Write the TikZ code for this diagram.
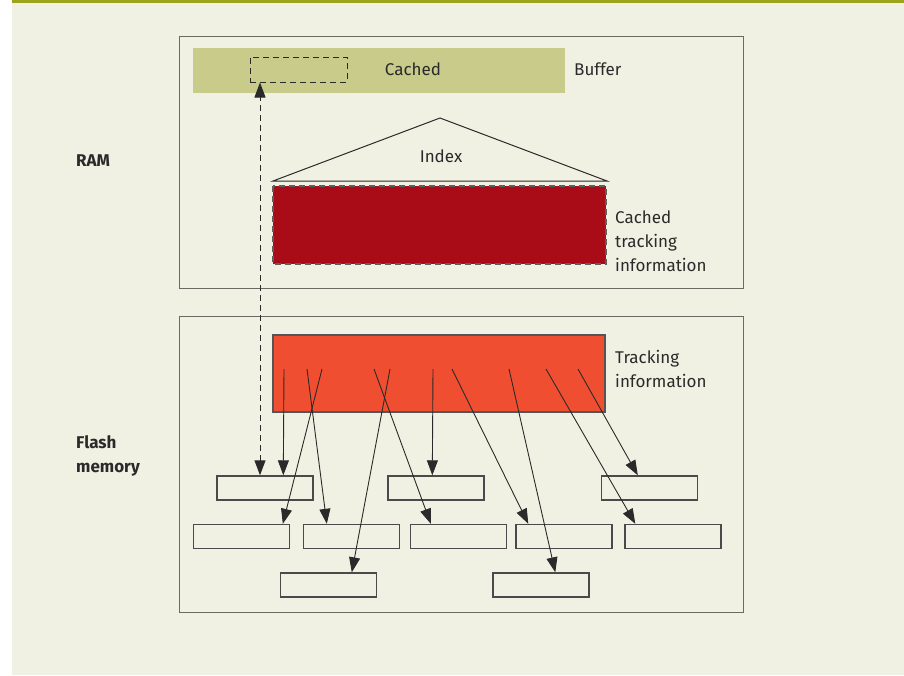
\documentclass[tikz,border=0pt]{standalone}
\usepackage{fontspec}
\setmainfont{Fira Sans}
\usetikzlibrary{arrows.meta}
\definecolor{paper}{HTML}{F1F1E3}
\definecolor{topbar}{HTML}{9CA41C}
\definecolor{buffer}{HTML}{C9CB8A}
\definecolor{cachered}{HTML}{A90C17}
\definecolor{trackred}{HTML}{EF4F30}
\definecolor{ink}{HTML}{2A2A2A}
\definecolor{frame}{HTML}{6A6A62}
\begin{document}
\begin{tikzpicture}[x=1pt,y=-1pt,
    lbl/.style={text=ink,font=\fontsize{17}{24}\selectfont,inner sep=0pt},
    memlbl/.style={text=ink,font=\fontsize{17}{24}\selectfont\bfseries,align=left,anchor=west,inner sep=0pt},
    page/.style={draw=frame,line width=1pt},
    flashblk/.style={draw=ink!85,line width=1.4pt,minimum width=96pt,minimum height=24pt,inner sep=0pt},
    arr/.style={-{Triangle[length=15pt,width=11pt]},line width=0.9pt,draw=ink},
    dasharr/.style={{Triangle[length=15pt,width=11pt]}-{Triangle[length=15pt,width=11pt]},line width=1pt,draw=ink,dash pattern=on 6pt off 4pt},
  ]
  \useasboundingbox (0,0) rectangle (904,675);
  \fill[white] (0,0) rectangle (904,675);
  \fill[paper] (12,0) rectangle (904,675);
  \fill[topbar] (12,0) rectangle (904,3);

  % RAM
  \draw[page] (179,36) rectangle (743,288);
  \node[memlbl] (ram) at (76,161) {RAM};
  \fill[buffer] (193,48) rectangle (565,93);
  \node[draw=ink,line width=1pt,dash pattern=on 6pt off 4pt,minimum width=97pt,minimum height=25pt,inner sep=0pt] (cbox) at (298.5,69.5) {};
  \node[lbl] (cached) at (413,69) {Cached};
  \node[lbl,anchor=west] (buf) at (574,69) {Buffer};
  \draw[ink,line width=1pt] (273,181) -- (440,118) -- (607,181) -- cycle;
  \node[lbl] (index) at (441,156) {Index};
  \filldraw[fill=cachered,draw=ink!75,line width=1.1pt,dash pattern=on 6pt off 4pt] (273,186) rectangle (606,264);
  \node[lbl,anchor=west,align=left] (ctrack) at (615,241) {Cached\\tracking\\information};

  % Flash
  \draw[page] (179,316) rectangle (743,612);
  \node[memlbl] (flash) at (76,456) {Flash\\memory};
  \filldraw[fill=trackred,draw=ink!80,line width=1.1pt] (273,335) rectangle (605,412);
  \node[lbl,anchor=west,align=left] (track) at (615,369) {Tracking\\information};

  % blocks
  \node[flashblk] (a) at (265,488) {};
  \node[flashblk] (b) at (436,488) {};
  \node[flashblk] (c) at (649.5,488) {};
  \node[flashblk] (d) at (241.5,536.5) {};
  \node[flashblk] (e) at (351.5,536.5) {};
  \node[flashblk] (f) at (458.5,536.5) {};
  \node[flashblk] (g) at (564,536.5) {};
  \node[flashblk] (h) at (673,536.5) {};
  \node[flashblk] (i) at (328.5,585) {};
  \node[flashblk] (j) at (541,585) {};

  % pointers
  \foreach \n/\sx/\tgt/\off in {1/284/a/67, 2/307/e/24, 3/322/d/90, 4/374/f/21, 5/390/i/72,
                                6/433/b/45, 7/452/g/13, 8/509/j/63, 9/546/h/11, 10/578/c/37}{
    \coordinate (t\n) at (\sx,369);
    \draw[arr] (t\n) -- ([xshift=\off pt]\tgt.north west);
  }
  \coordinate (dl) at (260,0);
  \draw[dasharr] (a.north -| dl) -- (cbox.south -| dl);
\end{tikzpicture}
\end{document}
